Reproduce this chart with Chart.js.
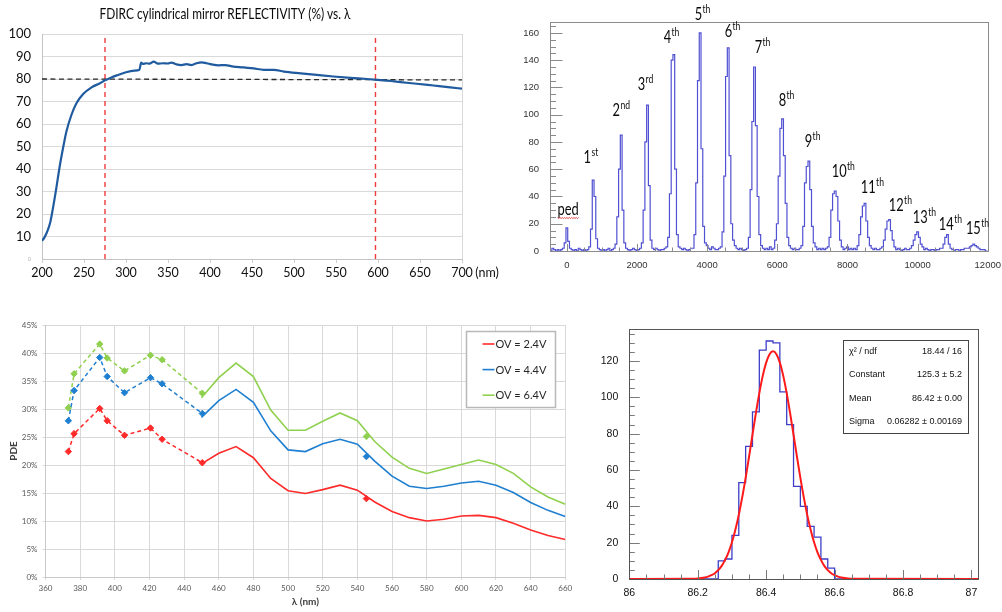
<!DOCTYPE html>
<html>
<head>
<meta charset="utf-8">
<script src="https://cdn.jsdelivr.net/npm/chart.js@4.4.1/dist/chart.umd.min.js"></script>
<style>
html,body{margin:0;padding:0;background:#fff;}
body{width:1002px;height:612px;position:relative;overflow:hidden;}
.panel{position:absolute;}
canvas{display:block;}
</style>
</head>
<body>
<div class="panel" style="left:0;top:0;width:500px;height:300px"><canvas id="c1" width="500" height="300"></canvas></div>
<div class="panel" style="left:520px;top:0;width:482px;height:300px"><canvas id="c2" width="482" height="300"></canvas></div>
<div class="panel" style="left:0;top:305px;width:590px;height:307px"><canvas id="c3" width="590" height="307"></canvas></div>
<div class="panel" style="left:590px;top:305px;width:412px;height:307px"><canvas id="c4" width="412" height="307"></canvas></div>
<script>
// ================= Panel 1: mirror reflectivity =================
const reflTitle = 'FDIRC cylindrical mirror REFLECTIVITY (%) vs. λ';
const reflWavelength = [200,203,207,210,213,217,221,225,229,235,241,249,259,269,275,282,289,300,310,316,318,320,324,328,333,338,344,350,354,360,366,372,378,384,390,396,402,410,418,428,440,452,464,476,488,508,527,547,567,587,600,615,627,646,666,686,700];
const reflValue = [8.1,9.6,12.9,16.6,22.5,31.4,41.0,49.2,56.6,64.0,69.2,73.3,76.3,78.1,79.4,80.6,81.6,83.0,83.7,84.1,87.3,86.7,87.0,86.8,87.7,86.8,87.0,86.9,87.3,86.5,86.2,86.6,86.2,87.0,87.4,87.0,86.5,86.1,86.2,85.5,85.2,84.7,84.1,84.1,83.3,82.5,81.8,81.1,80.5,80.0,79.6,79.1,78.6,77.9,77.1,76.3,75.7];
const reflXTicks = [200,250,300,350,400,450,500,550,600,650,700];
const reflYTicks = [0,10,20,30,40,50,60,70,80,90,100];
const refLevelX = [200,700];
const refLevelY = [80,79.6];
const cutWavelengths = [275,597];

// ================= Panel 2: photo-electron spectrum =================
const phBinStart = -500, phBinWidth = 50;
const phCounts = [
  1,0,2,1,0,1,0,1,2,6,
  17,7,2,1,0,1,0,2,1,0,
  1,0,1,3,16,52,40,9,2,1,
  0,1,0,1,2,0,1,2,5,25,
  60,85,30,6,2,1,0,1,2,1,
  0,1,2,6,30,80,107,48,8,2,
  1,2,1,0,1,1,2,3,10,42,
  140,144,60,12,3,2,1,2,1,0,
  1,2,2,12,50,125,160,75,18,6,
  4,2,1,3,2,1,1,2,3,14,
  55,128,149,70,20,8,4,2,1,2,
  1,0,1,2,10,45,95,135,92,40,
  12,4,2,1,2,1,3,1,2,8,
  20,55,90,97,70,35,10,4,2,1,
  2,1,1,2,4,18,50,62,66,45,
  18,6,3,1,2,1,2,1,2,3,
  10,30,42,44,40,22,8,3,1,2,
  3,1,2,1,2,1,4,12,25,33,
  35,22,10,4,2,1,2,1,1,2,
  3,8,16,22,23,15,8,3,1,2,
  1,0,1,2,1,1,2,4,8,12,
  14,10,5,3,1,2,1,0,1,1,
  0,1,1,2,2,5,10,12,5,2,
  1,0,1,1,0,1,1,2,2,2,
  3,4,5,4,3,2,1,1,1,0,
  0
];
const phXTicks = [0,2000,4000,6000,8000,10000,12000];
const phYTicks = [0,20,40,60,80,100,120,140,160];
const peakNames  = ['ped','1','2','3','4','5','6','7','8','9','10','11','12','13','14','15'];
const peakSuffix = ['','st','nd','rd','th','th','th','th','th','th','th','th','th','th','th','th'];
const peakLabelX = [-265,477,1304,2018,2760,3644,4498,5354,6039,6781,7551,8379,9178,9863,10605,11376];
const peakLabelY = [26.4,64.6,99,118.1,152.6,169.5,157,145.3,106.4,76.3,54.3,42.6,29.3,20.5,15.4,12.5];

// ================= Panel 3: PDE vs wavelength =================
const pdeSeriesNames = ['OV = 2.4V','OV = 4.4V','OV = 6.4V'];
const pdeColors = ['#ff2a2a','#1f7fd0','#8fd14f'];
const pdeDashX = [373.2,376.5,391.3,395.6,405.6,420.6,427.3,450.5];
const pde24Dash = [22.4,25.6,30.1,27.9,25.3,26.6,24.6,20.4];
const pde44Dash = [27.9,33.3,39.2,35.8,32.9,35.6,34.5,29.2];
const pde64Dash = [30.2,36.3,41.6,39.1,36.8,39.6,38.8,32.8];
const pdeSolidX = [450,460,470,480,490,500,510,520,530,540,550,560,570,580,590,600,610,620,630,640,650,660];
const pde24Solid = [20.2,22.1,23.3,21.3,17.6,15.4,14.9,15.6,16.4,15.5,13.4,11.7,10.6,10.0,10.3,10.9,11.0,10.6,9.6,8.4,7.4,6.7];
const pde44Solid = [28.5,31.5,33.5,31.2,26.1,22.7,22.4,23.8,24.6,23.7,20.7,18.0,16.2,15.8,16.2,16.8,17.1,16.4,15.1,13.3,11.9,10.8];
const pde64Solid = [32.0,35.6,38.2,35.8,29.8,26.2,26.2,27.8,29.3,27.9,24.2,21.4,19.4,18.5,19.3,20.1,20.9,20.1,18.5,16.1,14.3,13.0];
const pdeSingleX = 545.2;
const pdeSingleY = [14.0,21.5,25.1];
const pdeXTicks = [360,380,400,420,440,460,480,500,520,540,560,580,600,620,640,660];
const pdeYTicks = [0,5,10,15,20,25,30,35,40,45];

// ================= Panel 4: Gaussian fit =================
const gausEdges  = [86.26,86.28,86.30,86.32,86.34,86.36,86.38,86.40,86.42,86.44,86.46,86.48,86.50,86.52,86.54,86.56,86.58,86.60];
const gausCounts = [10,11,24,53,73,92,126,131,130,103,85,51,40,29,23,11,6];
const fitX = [86.00,86.18,86.19,86.20,86.21,86.22,86.23,86.24,86.25,86.26,86.27,86.28,86.29,86.30,86.31,86.32,86.33,86.34,86.35,86.36,86.37,86.38,86.39,86.40,86.41,86.42,86.43,86.44,86.45,86.46,86.47,86.48,86.49,86.50,86.51,86.52,86.53,86.54,86.55,86.56,86.57,86.58,86.59,86.60,86.61,86.62,86.63,86.64,86.65,86.66,87.02];
const fitY = [0,0.08,0.15,0.3,0.5,0.8,1.3,2.1,3.2,4.9,7.2,10.5,14.7,20.2,27.1,35.3,44.9,55.7,67.3,79.4,91.3,102.3,111.8,119.1,123.7,125.3,123.7,119.1,111.8,102.3,91.3,79.4,67.3,55.7,44.9,35.3,27.1,20.2,14.7,10.5,7.2,4.9,3.2,2.1,1.3,0.8,0.5,0.3,0.15,0.08,0];
const gausXTicks = [86,86.2,86.4,86.6,86.8,87];
const gausYTicks = [0,20,40,60,80,100,120];
const statNames  = ['χ² / ndf','Constant','Mean','Sigma'];
const statValues = ['18.44 / 16','125.3 ± 5.2','86.42 ± 0.00','0.06282 ± 0.00169'];

// ================= helpers =================
Chart.defaults.font.family = "Lato, 'Liberation Sans', sans-serif";
Chart.defaults.animation = false;
const noPlug = {legend:{display:false}, tooltip:{enabled:false}};
const xy = (xs, ys) => xs.map((x, i) => ({x, y: ys[i]}));
const setTicks = arr => (s => { s.ticks = arr.map(v => ({value: v})); });
const plain = v => String(v);
const ROOTFONT = "'Liberation Sans', Arial, sans-serif";

function textFit(ctx, text, x, y, font, sx, align, color) {
  ctx.save();
  ctx.font = font; ctx.fillStyle = color; ctx.textBaseline = 'middle'; ctx.textAlign = align;
  ctx.translate(x, y); ctx.scale(sx, 1); ctx.fillText(text, 0, 0);
  ctx.restore();
}

// ================= Chart 1 =================
const reflDecor = {
  id: 'reflDecor',
  afterDraw(chart) {
    const ctx = chart.ctx;
    ctx.save();
    ctx.font = "15px Lato, sans-serif";
    const w = ctx.measureText(reflTitle).width;
    textFit(ctx, reflTitle, 225, 14, "15px Lato, sans-serif", 251 / w, 'center', '#0a0a0a');
    textFit(ctx, '(nm)', 487, 273, "12.5px Lato, sans-serif", 1, 'center', '#111');
    ctx.restore();
  }
};
new Chart(document.getElementById('c1'), {
  type: 'line',
  data: { datasets: [
    { label: 'Reflectivity', data: xy(reflWavelength, reflValue), borderColor: '#1f5b9e', borderWidth: 2.2, pointRadius: 0, cubicInterpolationMode: 'monotone' },
    { label: '80 %', data: xy(refLevelX, refLevelY), borderColor: '#2a2a2a', borderWidth: 1.3, borderDash: [5,3.5], pointRadius: 0 },
    { label: 'cut low', data: [{x: cutWavelengths[0], y: 0}, {x: cutWavelengths[0], y: 100}], borderColor: '#ef3b3b', borderWidth: 1.4, borderDash: [5,4], pointRadius: 0 },
    { label: 'cut high', data: [{x: cutWavelengths[1], y: 0}, {x: cutWavelengths[1], y: 100}], borderColor: '#ef3b3b', borderWidth: 1.4, borderDash: [5,4], pointRadius: 0 }
  ]},
  options: {
    responsive: false, devicePixelRatio: 1, animation: false,
    layout: { padding: { left: 0, right: 38, top: 34, bottom: 0 } },
    plugins: noPlug,
    scales: {
      x: { type: 'linear', min: 200, max: 700, afterFit: s => { s.height = 41; }, afterBuildTicks: setTicks(reflXTicks),
           ticks: { font: { size: 12.5 }, color: '#111', padding: 2.5, maxRotation: 0, autoSkip: false, callback: plain },
           grid: { color: c => (c.tick && c.tick.value === 700) ? '#d9d9d9' : 'rgba(0,0,0,0)', tickColor: '#cfcfcf', tickLength: 4 },
           border: { color: '#c4c4c4' } },
      y: { min: 0, max: 100, afterFit: s => { s.width = 42; }, afterBuildTicks: setTicks(reflYTicks),
           ticks: { font: c => (c.tick && c.tick.value === 0) ? { size: 5 } : { size: 13 }, color: c => (c.tick && c.tick.value === 0) ? '#aaa' : '#111', padding: 11, autoSkip: false, callback: plain },
           grid: { color: '#dadada', drawTicks: false },
           border: { color: '#c4c4c4' } }
    }
  },
  plugins: [reflDecor]
});

// ================= Chart 2 =================
const phPoints = phCounts.map((c, i) => ({ x: phBinStart + i * phBinWidth, y: c }));
const phDecor = {
  id: 'phDecor',
  afterDatasetsDraw(chart) {
    const { ctx, chartArea: a, scales: { x, y } } = chart;
    ctx.save();
    ctx.strokeStyle = '#8c8c8c'; ctx.lineWidth = 1;
    ctx.strokeRect(Math.round(a.left) + 0.5, Math.round(a.top) + 0.5, Math.round(a.right - a.left), Math.round(a.bottom - a.top));
    ctx.strokeStyle = '#8a8a8a';
    ctx.beginPath();
    for (let v = 0; v <= 165; v += 5) {
      const p = Math.round(y.getPixelForValue(v)) + 0.5;
      const len = v % 20 === 0 ? 12.5 : 6;
      ctx.moveTo(a.left, p); ctx.lineTo(a.left + len, p);
    }
    for (let v = 0; v <= 12000; v += 500) {
      const p = Math.round(x.getPixelForValue(v)) + 0.5;
      const len = v % 2000 === 0 ? 7 : 3.5;
      ctx.moveTo(p, a.bottom); ctx.lineTo(p, a.bottom - len);
    }
    ctx.stroke();
    peakNames.forEach((name, i) => {
      const px = x.getPixelForValue(peakLabelX[i]);
      const py = y.getPixelForValue(peakLabelY[i]);
      ctx.save();
      ctx.translate(px, py); ctx.scale(0.78, 1);
      ctx.fillStyle = '#0a0a0a'; ctx.textBaseline = 'alphabetic'; ctx.textAlign = 'left';
      ctx.font = '16.5px Lato, sans-serif';
      ctx.fillText(name, 0, 0);
      const w = ctx.measureText(name).width;
      if (peakSuffix[i]) { ctx.font = '11px Lato, sans-serif'; ctx.fillText(peakSuffix[i], w + 0.5, -7); }
      if (name === 'ped') {
        ctx.strokeStyle = '#e03030'; ctx.lineWidth = 1; ctx.beginPath();
        for (let k = 0; k <= w; k += 1.5) { const yy = 2.5 + ((Math.round(k / 1.5) % 2) ? 1 : 0); if (k === 0) ctx.moveTo(k, yy); else ctx.lineTo(k, yy); }
        ctx.stroke();
      }
      ctx.restore();
    });
    ctx.restore();
  }
};
new Chart(document.getElementById('c2'), {
  type: 'line',
  data: { datasets: [
    { label: 'spectrum', data: phPoints, stepped: 'middle', borderColor: '#5050d2', borderWidth: 1.2, pointRadius: 0 }
  ]},
  options: {
    responsive: false, devicePixelRatio: 1, animation: false,
    layout: { padding: { left: 0, right: 14, top: 22, bottom: 0 } },
    plugins: noPlug,
    scales: {
      x: { type: 'linear', min: -480, max: 12000, afterFit: s => { s.height = 49; }, afterBuildTicks: setTicks(phXTicks),
           ticks: { font: { family: ROOTFONT, size: 9.5 }, color: '#333', padding: 1, maxRotation: 0, autoSkip: false, callback: plain },
           grid: { display: false }, border: { display: false } },
      y: { min: 0, max: 168, afterFit: s => { s.width = 30; }, afterBuildTicks: setTicks(phYTicks),
           ticks: { font: { family: ROOTFONT, size: 9.5 }, color: '#333', padding: 3, autoSkip: false, callback: plain },
           grid: { display: false }, border: { display: false } }
    }
  },
  plugins: [phDecor]
});

// ================= Chart 3 =================
const pdeDashSets = [pde24Dash, pde44Dash, pde64Dash];
const pdeSolidSets = [pde24Solid, pde44Solid, pde64Solid];
const pdeDatasets = [];
pdeSeriesNames.forEach((name, i) => {
  pdeDatasets.push({ label: name, data: xy(pdeDashX, pdeDashSets[i]), borderColor: pdeColors[i], backgroundColor: pdeColors[i], borderWidth: 1.5, borderDash: [4,3], pointStyle: 'rectRot', pointRadius: 3.2, pointBorderWidth: 1 });
  pdeDatasets.push({ label: name + ' solid', data: xy(pdeSolidX, pdeSolidSets[i]), borderColor: pdeColors[i], borderWidth: 1.6, pointRadius: 0 });
  pdeDatasets.push({ label: name + ' single', data: [{ x: pdeSingleX, y: pdeSingleY[i] }], showLine: false, borderColor: pdeColors[i], backgroundColor: pdeColors[i], pointStyle: 'rectRot', pointRadius: 3.2 });
});
const pdeLegend = {
  id: 'pdeLegend',
  afterDraw(chart) {
    const ctx = chart.ctx;
    ctx.save();
    const bx = 466.5, by = 26.5, bw = 89, bh = 76;
    ctx.fillStyle = '#fff'; ctx.fillRect(bx, by, bw, bh);
    ctx.strokeStyle = '#b8b8b8'; ctx.lineWidth = 1.5; ctx.strokeRect(bx, by, bw, bh);
    pdeSeriesNames.forEach((name, i) => {
      const yy = 39 + i * 25.6;
      ctx.strokeStyle = pdeColors[i]; ctx.lineWidth = 1.6;
      ctx.beginPath(); ctx.moveTo(482.5, yy); ctx.lineTo(494.5, yy); ctx.stroke();
      ctx.fillStyle = '#262626'; ctx.font = '11px Lato, sans-serif'; ctx.textBaseline = 'middle'; ctx.textAlign = 'left';
      ctx.fillText(name, 495.5, yy + 0.5);
    });
    ctx.restore();
  }
};
new Chart(document.getElementById('c3'), {
  type: 'line',
  data: { datasets: pdeDatasets },
  options: {
    responsive: false, devicePixelRatio: 1, animation: false,
    layout: { padding: { left: 0, right: 24.7, top: 20, bottom: 0 } },
    plugins: noPlug,
    scales: {
      x: { type: 'linear', min: 360, max: 660, afterFit: s => { s.height = 35; }, afterBuildTicks: setTicks(pdeXTicks),
           ticks: { font: { size: 8 }, color: '#595959', padding: 4, maxRotation: 0, autoSkip: false, callback: plain },
           grid: { color: '#d9d9d9', tickColor: '#d9d9d9', tickLength: 3 },
           border: { color: '#c8c8c8' },
           title: { display: true, text: 'λ (nm)', font: { size: 10, weight: 'bold' }, color: '#404040', padding: { top: 0, bottom: 4 } } },
      y: { min: 0, max: 45, afterFit: s => { s.width = 45.5; }, afterBuildTicks: setTicks(pdeYTicks),
           ticks: { font: { size: 8 }, color: '#595959', padding: 5, autoSkip: false, callback: v => v + '%' },
           grid: { color: '#d9d9d9', tickColor: '#d9d9d9', tickLength: 3 },
           border: { color: '#c8c8c8' },
           title: { display: true, text: 'PDE', font: { size: 10, weight: 'bold' }, color: '#404040', padding: { top: 8, bottom: 0 } } }
    }
  },
  plugins: [pdeLegend]
});

// ================= Chart 4 =================
const gausPoints = [{ x: 86.0, y: 0 }].concat(gausCounts.map((c, i) => ({ x: gausEdges[i], y: c })), [{ x: gausEdges[gausEdges.length - 1], y: 0 }, { x: 87.02, y: 0 }]);
const gausDecor = {
  id: 'gausDecor',
  afterDatasetsDraw(chart) {
    const { ctx, chartArea: a, scales: { x, y } } = chart;
    ctx.save();
    ctx.strokeStyle = '#7a7a7a'; ctx.lineWidth = 1;
    ctx.beginPath();
    for (let v = 0; v <= 135; v += 5) {
      const p = Math.round(y.getPixelForValue(v)) + 0.5;
      const len = v % 20 === 0 ? 10.5 : 5.5;
      ctx.moveTo(a.left, p); ctx.lineTo(a.left + len, p);
    }
    for (let k = 0; k <= 20; k++) {
      const p = Math.round(x.getPixelForValue(86 + k * 0.05)) + 0.5;
      const len = k % 4 === 0 ? 9 : 4.5;
      ctx.moveTo(p, a.bottom); ctx.lineTo(p, a.bottom - len);
    }
    ctx.stroke();
    ctx.strokeStyle = '#555';
    ctx.strokeRect(Math.round(a.left) + 0.5, Math.round(a.top) + 0.5, Math.round(a.right - a.left), Math.round(a.bottom - a.top));
    // stats box
    const bx = 253.5, by = 35.5, bw = 125, bh = 93;
    ctx.fillStyle = '#fff'; ctx.fillRect(bx, by, bw, bh);
    ctx.strokeStyle = '#444'; ctx.strokeRect(bx, by, bw, bh);
    ctx.fillStyle = '#111'; ctx.font = "9px " + ROOTFONT; ctx.textBaseline = 'middle';
    statNames.forEach((n, i) => {
      const yy = 46.7 + i * 23.2;
      ctx.textAlign = 'left'; ctx.fillText(n, 259, yy);
      ctx.textAlign = 'right'; ctx.fillText(statValues[i], 372, yy);
    });
    ctx.restore();
  }
};
new Chart(document.getElementById('c4'), {
  type: 'line',
  data: { datasets: [
    { label: 'fit', data: xy(fitX, fitY), borderColor: '#ff1a1a', borderWidth: 2, pointRadius: 0, cubicInterpolationMode: 'monotone' },
    { label: 'histogram', data: gausPoints, stepped: 'before', borderColor: '#3d3dc8', borderWidth: 1.3, pointRadius: 0 }
  ]},
  options: {
    responsive: false, devicePixelRatio: 1, animation: false,
    layout: { padding: { left: 0, right: 23.7, top: 24, bottom: 0 } },
    plugins: noPlug,
    scales: {
      x: { type: 'linear', min: 86, max: 87.02, afterFit: s => { s.height = 33; }, afterBuildTicks: setTicks(gausXTicks),
           ticks: { font: { family: ROOTFONT, size: 10.5 }, color: '#111', padding: 0, maxRotation: 0, autoSkip: false, callback: plain },
           grid: { display: false }, border: { display: false } },
      y: { min: 0, max: 137.6, afterFit: s => { s.width = 39.3; }, afterBuildTicks: setTicks(gausYTicks),
           ticks: { font: { family: ROOTFONT, size: 10.5 }, color: '#111', padding: 3, autoSkip: false, callback: plain },
           grid: { display: false }, border: { display: false } }
    }
  },
  plugins: [gausDecor]
});
</script>
</body>
</html>
